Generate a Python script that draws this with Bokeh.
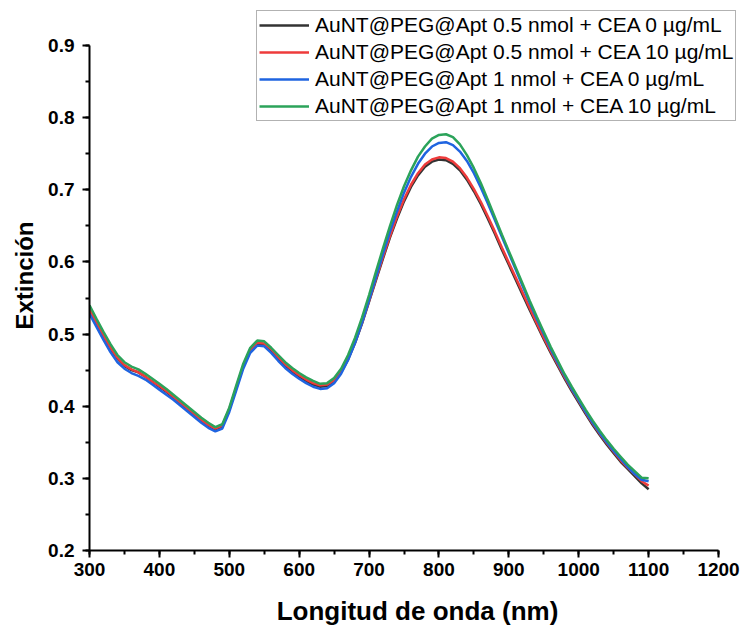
from bokeh.plotting import figure
from bokeh.models import Legend, LegendItem, SingleIntervalTicker, Range1d
from bokeh.embed import file_html
from bokeh.resources import INLINE

wavelength = list(range(300, 1101, 10))

ext_05_cea0 = [
    0.533, 0.515, 0.497, 0.480, 0.466, 0.456, 0.450, 0.447, 0.441, 0.434,
    0.427, 0.420, 0.412, 0.404, 0.396, 0.388, 0.380, 0.373, 0.368, 0.372,
    0.395, 0.425, 0.455, 0.477, 0.487, 0.486, 0.477, 0.466, 0.456, 0.448,
    0.441, 0.435, 0.430, 0.427, 0.428, 0.435, 0.447, 0.465, 0.488, 0.515,
    0.545, 0.575, 0.605, 0.634, 0.660, 0.684, 0.704, 0.720, 0.732, 0.739,
    0.742, 0.741, 0.736, 0.727, 0.714, 0.698, 0.680, 0.660, 0.639, 0.617,
    0.596, 0.575, 0.554, 0.533, 0.513, 0.493, 0.474, 0.456, 0.438, 0.421,
    0.405, 0.389, 0.374, 0.360, 0.347, 0.335, 0.323, 0.313, 0.303, 0.293,
    0.285]

ext_05_cea10 = [
    0.534, 0.516, 0.498, 0.481, 0.467, 0.457, 0.451, 0.447, 0.441, 0.434,
    0.428, 0.421, 0.413, 0.405, 0.397, 0.389, 0.381, 0.374, 0.369, 0.373,
    0.396, 0.426, 0.456, 0.478, 0.488, 0.487, 0.479, 0.468, 0.458, 0.450,
    0.443, 0.437, 0.432, 0.429, 0.430, 0.436, 0.448, 0.466, 0.489, 0.516,
    0.546, 0.577, 0.607, 0.636, 0.663, 0.687, 0.707, 0.723, 0.735, 0.742,
    0.745, 0.744, 0.739, 0.730, 0.717, 0.701, 0.683, 0.663, 0.642, 0.620,
    0.599, 0.578, 0.557, 0.536, 0.515, 0.495, 0.476, 0.458, 0.440, 0.423,
    0.407, 0.391, 0.376, 0.362, 0.349, 0.337, 0.325, 0.315, 0.306, 0.296,
    0.290]

ext_1_cea0 = [
    0.528, 0.510, 0.492, 0.475, 0.461, 0.452, 0.446, 0.442, 0.437, 0.430,
    0.423, 0.416, 0.409, 0.401, 0.393, 0.385, 0.377, 0.370, 0.365, 0.369,
    0.392, 0.422, 0.452, 0.474, 0.484, 0.483, 0.474, 0.463, 0.453, 0.445,
    0.438, 0.432, 0.427, 0.424, 0.425, 0.432, 0.445, 0.464, 0.488, 0.516,
    0.547, 0.579, 0.611, 0.642, 0.670, 0.696, 0.718, 0.736, 0.750, 0.760,
    0.765, 0.766, 0.762, 0.753, 0.740, 0.723, 0.703, 0.681, 0.658, 0.635,
    0.612, 0.589, 0.566, 0.543, 0.521, 0.500, 0.479, 0.460, 0.442, 0.424,
    0.408, 0.392, 0.377, 0.363, 0.350, 0.338, 0.327, 0.316, 0.306, 0.298,
    0.296]

ext_1_cea10 = [
    0.540, 0.521, 0.503, 0.486, 0.471, 0.461, 0.455, 0.451, 0.445, 0.438,
    0.431, 0.424, 0.416, 0.408, 0.400, 0.392, 0.384, 0.377, 0.371, 0.375,
    0.398, 0.429, 0.459, 0.481, 0.491, 0.490, 0.481, 0.471, 0.461, 0.453,
    0.446, 0.440, 0.435, 0.431, 0.432, 0.439, 0.452, 0.471, 0.495, 0.523,
    0.554, 0.587, 0.619, 0.650, 0.679, 0.705, 0.727, 0.746, 0.760, 0.771,
    0.776, 0.777, 0.773, 0.763, 0.748, 0.730, 0.709, 0.686, 0.662, 0.638,
    0.615, 0.592, 0.569, 0.546, 0.524, 0.503, 0.482, 0.463, 0.444, 0.427,
    0.411, 0.395, 0.380, 0.366, 0.353, 0.341, 0.330, 0.319, 0.310, 0.301,
    0.300]

series_labels = [
    "AuNT@PEG@Apt 0.5 nmol + CEA 0 µg/mL",
    "AuNT@PEG@Apt 0.5 nmol + CEA 10 µg/mL",
    "AuNT@PEG@Apt 1 nmol + CEA 0 µg/mL",
    "AuNT@PEG@Apt 1 nmol + CEA 10 µg/mL",
]
series_values = [ext_05_cea0, ext_05_cea10, ext_1_cea0, ext_1_cea10]
series_colors = ["#333333", "#EE3B3B", "#1F64E0", "#2BA35A"]

FONT = "Liberation Sans"

# frame extends to the top and right edges of the canvas so that the legend
# (which sits partly above / right of the axes box) is not clipped;
# the axes themselves are bounded to 300-1200 and 0.2-0.9
p = figure(width=745, height=632, output_backend="svg", toolbar_location=None,
           x_range=Range1d(300, 1238.6), y_range=Range1d(0.2, 0.9624),
           min_border_left=89, min_border_right=0,
           min_border_top=0, min_border_bottom=82)
p.title.visible = False
p.background_fill_color = "white"
p.border_fill_color = "white"
p.outline_line_color = None
p.xgrid.visible = False
p.ygrid.visible = False

p.xaxis.ticker = SingleIntervalTicker(interval=100, num_minor_ticks=2)
p.yaxis.ticker = SingleIntervalTicker(interval=0.1, num_minor_ticks=2)
p.xaxis.bounds = (300, 1200)
p.yaxis.bounds = (0.2, 0.9)
p.xaxis.axis_label = "Longitud de onda (nm)"
p.yaxis.axis_label = "Extinción"

for ax in (p.xaxis[0], p.yaxis[0]):
    ax.axis_line_width = 2
    ax.axis_line_color = "black"
    ax.major_tick_line_width = 2
    ax.minor_tick_line_width = 2
    ax.major_tick_in = 0
    ax.major_tick_out = 7
    ax.minor_tick_in = 0
    ax.minor_tick_out = 4
    ax.major_label_text_font = FONT
    ax.major_label_text_font_style = "bold"
    ax.major_label_text_font_size = "19px"
    ax.major_label_text_color = "black"
    ax.axis_label_text_font = FONT
    ax.axis_label_text_font_style = "bold"
    ax.axis_label_text_color = "black"

p.xaxis.axis_label_text_font_size = "26px"
p.yaxis.axis_label_text_font_size = "24px"
p.xaxis.major_label_standoff = 5
p.xaxis.axis_label_standoff = 17
p.yaxis.major_label_standoff = 8
p.yaxis.axis_label_standoff = 7

items = []
for lab, vals, col in zip(series_labels, series_values, series_colors):
    r = p.line(wavelength, vals, line_color=col, line_width=2.5)
    items.append(LegendItem(label=lab, renderers=[r]))

legend = Legend(items=items, location=(167, 429),
                label_text_font=FONT, label_text_font_size="21px",
                label_text_color="black",
                glyph_width=50, glyph_height=20, label_height=20,
                spacing=3, padding=2, margin=0, label_standoff=6,
                border_line_color="#666666", border_line_width=1.5,
                background_fill_color="white", background_fill_alpha=1.0)
p.add_layout(legend)

open("out.html", "w").write(file_html(p, INLINE))
